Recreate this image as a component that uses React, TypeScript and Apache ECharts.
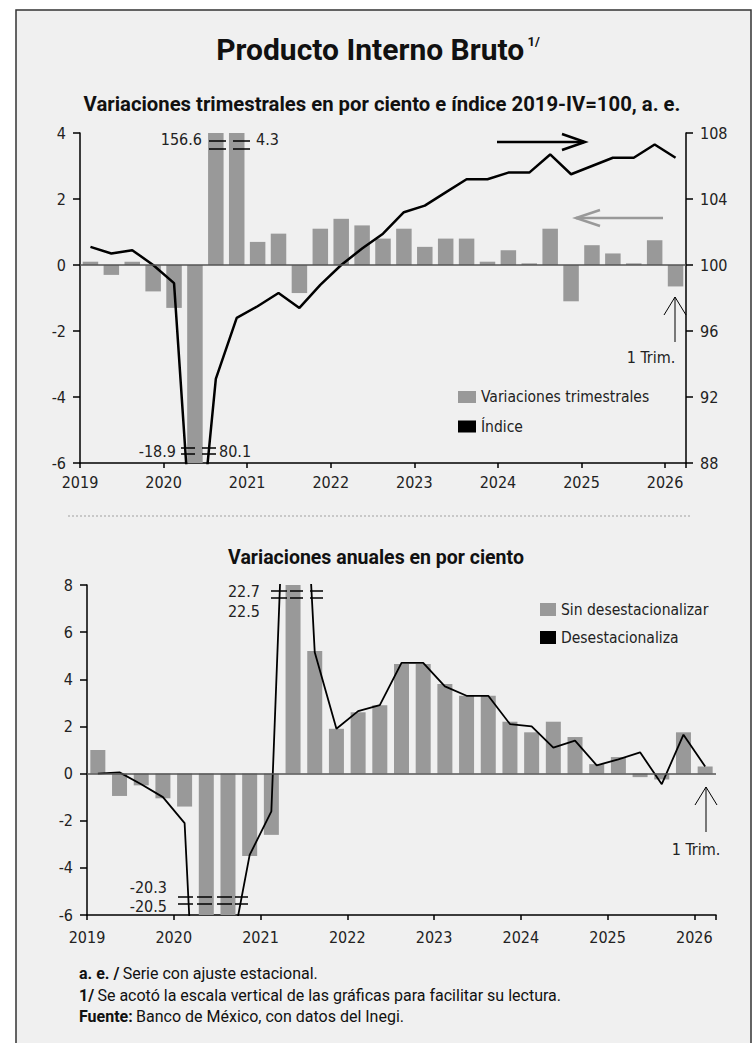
import React, { useEffect, useRef } from 'react';
import * as echarts from 'echarts';

const quarters = [
  '2019-I', '2019-II', '2019-III', '2019-IV',
  '2020-I', '2020-II', '2020-III', '2020-IV',
  '2021-I', '2021-II', '2021-III', '2021-IV',
  '2022-I', '2022-II', '2022-III', '2022-IV',
  '2023-I', '2023-II', '2023-III', '2023-IV',
  '2024-I', '2024-II', '2024-III', '2024-IV',
  '2025-I', '2025-II', '2025-III', '2025-IV',
  '2026-I',
];

// Variaciones trimestrales (%), a. e.
const quarterlyChange = [
  0.1, -0.3, 0.1, -0.8,
  -1.3, -18.9, 156.6, 4.3,
  0.7, 0.95, -0.85, 1.1,
  1.4, 1.2, 0.8, 1.1,
  0.55, 0.8, 0.8, 0.1,
  0.45, 0.05, 1.1, -1.1,
  0.6, 0.35, 0.05, 0.75,
  -0.65,
];

// Índice 2019-IV = 100, a. e.
const indexSA = [
  101.1, 100.7, 100.9, 100.0,
  98.9, 80.1, 93.1, 96.8,
  97.5, 98.3, 97.4, 98.8,
  100.0, 101.0, 101.9, 103.2,
  103.6, 104.4, 105.2, 105.2,
  105.6, 105.6, 106.7, 105.5,
  106.0, 106.5, 106.5, 107.3,
  106.5,
];

// Variaciones anuales (%), sin desestacionalizar
const annualNSA = [
  1.0, -0.95, -0.5, -1.05,
  -1.4, -20.3, -8.5, -3.5,
  -2.6, 22.7, 5.2, 1.9,
  2.6, 2.9, 4.65, 4.65,
  3.8, 3.3, 3.3, 2.2,
  1.75, 2.2, 1.55, 0.4,
  0.7, -0.15, -0.25, 1.75,
  0.3,
];

// Variaciones anuales (%), desestacionalizadas
const annualSA = [
  0.0, 0.05, -0.45, -1.0,
  -2.1, -20.5, -8.3, -3.45,
  -1.6, 22.5, 5.15, 1.9,
  2.65, 2.9, 4.7, 4.7,
  3.7, 3.3, 3.3, 2.1,
  2.0, 1.1, 1.4, 0.35,
  0.6, 0.9, -0.45, 1.65,
  0.3,
];

const NARROW = '"DejaVu Sans Condensed", "Roboto", sans-serif';
const SANS = 'Roboto, "Noto Sans", "Liberation Sans", sans-serif';
const TXT = '#222';
const BAR = '#999999';
const TICK_FS = 16;

const TOP = { left: 80, top: 133, width: 606, height: 330 };
const BOT = { left: 87, top: 585, width: 629, height: 330 };

function xAxisFor(gridIndex: number, width: number, margin: number) {
  const band = width / quarters.length;
  return {
    gridIndex,
    type: 'category',
    data: quarters,
    boundaryGap: true,
    axisLine: { show: true, onZero: false, lineStyle: { color: '#000', width: 1.5 } },
    axisTick: {
      show: true,
      interval: (i: number) => i % 4 === 0,
      length: 5,
      lineStyle: { color: '#000', width: 1.5 },
    },
    axisLabel: {
      interval: (i: number) => i % 4 === 0,
      formatter: (v: string) => v.slice(0, 4),
      padding: [0, band, 0, 0],
      margin,
      fontFamily: NARROW,
      fontSize: TICK_FS,
      color: TXT,
    },
    splitLine: { show: false },
  };
}

function yAxisFor(gridIndex: number, min: number, max: number, interval: number, position: string) {
  return {
    gridIndex,
    type: 'value',
    min,
    max,
    interval,
    position,
    axisLine: { show: true, onZero: false, lineStyle: { color: '#000', width: 1.5 } },
    axisTick: { show: true, length: 7, lineStyle: { color: '#000', width: 1.5 } },
    axisLabel: { margin: 14, fontFamily: NARROW, fontSize: TICK_FS, color: TXT },
    splitLine: { show: false },
  };
}

const zeroLine = {
  silent: true,
  symbol: 'none',
  label: { show: false },
  lineStyle: { color: '#555', width: 1.5, type: 'solid' },
  data: [{ yAxis: 0 }],
};

function cut(x1: number, x2: number, y: number, gap: number) {
  return [
    { type: 'line', z: 60, shape: { x1, y1: y, x2, y2: y }, style: { stroke: '#000', lineWidth: 1.5 } },
    { type: 'line', z: 60, shape: { x1, y1: y + gap, x2, y2: y + gap }, style: { stroke: '#000', lineWidth: 1.5 } },
  ];
}

function label(text: string, x: number, y: number, align: string) {
  return {
    type: 'text', z: 60, x, y,
    style: { text, fontFamily: NARROW, fontSize: TICK_FS, fill: TXT, textAlign: align, textVerticalAlign: 'middle' },
  };
}

function upArrow(x: number, y1: number, y2: number) {
  return [
    { type: 'line', z: 60, shape: { x1: x, y1, x2: x, y2 }, style: { stroke: '#000', lineWidth: 1 } },
    { type: 'polyline', z: 60, shape: { points: [[x - 11, y2 + 18], [x, y2], [x + 11, y2 + 18]] }, style: { stroke: '#000', lineWidth: 1, fill: null } },
  ];
}

function footer(bold: string, rest: string, y: number) {
  return {
    type: 'text', z: 60, x: 79, y,
    style: {
      text: `{b|${bold}} {r|${rest}}`, textVerticalAlign: 'middle',
      rich: {
        b: { fontFamily: SANS, fontSize: 16, fontWeight: 'bold', fill: '#111' },
        r: { fontFamily: SANS, fontSize: 16, fill: '#111' },
      },
    },
  };
}

export default function App() {
  const ref = useRef<HTMLDivElement>(null);

  useEffect(() => {
    if (!ref.current) return;
    const chart = echarts.init(ref.current, undefined, { renderer: 'svg' });

    const graphics: any[] = [
      { type: 'rect', z: -10, shape: { x: 16, y: 10, width: 735, height: 1060 }, style: { fill: '#f0f0f0', stroke: '#333', lineWidth: 1.5 } },
      {
        type: 'text', z: 60, x: 378, y: 49,
        style: {
          text: '{t|Producto Interno Bruto} {s|1/}',
          textAlign: 'center', textVerticalAlign: 'middle',
          rich: {
            t: { fontFamily: SANS, fontSize: 30, fontWeight: 'bold', fill: '#111' },
            s: { fontFamily: SANS, fontSize: 13, fontWeight: 'bold', fill: '#111', padding: [0, 0, 16, 0] },
          },
        },
      },
      {
        type: 'text', z: 60, x: 382, y: 104,
        style: { text: 'Variaciones trimestrales en por ciento e índice 2019-IV=100, a. e.', fontFamily: SANS, fontSize: 20.3, fontWeight: 'bold', fill: '#111', textAlign: 'center', textVerticalAlign: 'middle' },
      },
      {
        type: 'text', z: 60, x: 376, y: 557,
        style: { text: 'Variaciones anuales en por ciento', fontFamily: SANS, fontSize: 19.5, fontWeight: 'bold', fill: '#111', textAlign: 'center', textVerticalAlign: 'middle' },
      },
      { type: 'line', z: 60, shape: { x1: 68, y1: 516, x2: 690, y2: 516 }, style: { stroke: '#bbb', lineWidth: 1.5, lineDash: [2, 2] } },
      // black arrow (right axis)
      { type: 'line', z: 60, shape: { x1: 497, y1: 142, x2: 584, y2: 142 }, style: { stroke: '#000', lineWidth: 2.5 } },
      { type: 'polyline', z: 60, shape: { points: [[562, 134], [585, 142], [562, 150]] }, style: { stroke: '#000', lineWidth: 2.5, fill: null } },
      // gray arrow (left axis)
      { type: 'line', z: 60, shape: { x1: 663, y1: 218, x2: 576, y2: 218 }, style: { stroke: '#999', lineWidth: 2.5 } },
      { type: 'polyline', z: 60, shape: { points: [[600, 210], [576, 218], [600, 226]] }, style: { stroke: '#999', lineWidth: 2.5, fill: null } },
      // top chart cut marks
      ...cut(209, 226, 141, 8),
      ...cut(233, 250, 141, 8),
      label(String(quarterlyChange[6]), 202, 139, 'right'),
      label(String(quarterlyChange[7]), 256, 139, 'left'),
      ...cut(181, 195, 448, 6),
      ...cut(202, 216, 448, 6),
      label(String(quarterlyChange[5]), 176, 451, 'right'),
      label(String(indexSA[5]), 219, 451, 'left'),
      ...upArrow(675, 342, 297),
      label('1 Trim.', 651, 357, 'center'),
      // bottom chart cut marks
      ...cut(271, 287, 591, 7),
      ...cut(290, 303, 591, 7),
      ...cut(310, 323, 591, 7),
      label(String(annualNSA[9]), 260, 591, 'right'),
      label(String(annualSA[9]), 260, 611, 'right'),
      ...cut(178, 193, 897, 7),
      ...cut(197, 212, 897, 7),
      ...cut(217, 232, 897, 7),
      ...cut(235, 248, 897, 7),
      label(String(annualNSA[5]), 167, 887, 'right'),
      label(String(annualSA[5]), 167, 906, 'right'),
      ...upArrow(706, 832, 787),
      label('1 Trim.', 696, 849, 'center'),
      // footer
      footer('a. e. /', 'Serie con ajuste estacional.', 973),
      footer('1/', 'Se acotó la escala vertical de las gráficas para facilitar su lectura.', 995),
      footer('Fuente:', 'Banco de México, con datos del Inegi.', 1016),
    ];

    const option: any = {
      animation: false,
      backgroundColor: '#ffffff',
      grid: [
        { ...TOP, containLabel: false },
        { ...BOT, containLabel: false },
      ],
      xAxis: [xAxisFor(0, TOP.width, 11), xAxisFor(1, BOT.width, 14)],
      yAxis: [
        yAxisFor(0, -6, 4, 2, 'left'),
        yAxisFor(0, 88, 108, 4, 'right'),
        yAxisFor(1, -6, 8, 2, 'left'),
      ],
      legend: [
        {
          left: 453, top: 384, orient: 'vertical', itemWidth: 18, itemHeight: 12, itemGap: 13.5,
          data: [{ name: 'Variaciones trimestrales', icon: 'rect' }, { name: 'Índice', icon: 'rect' }],
          textStyle: { fontFamily: NARROW, fontSize: 15.5, color: TXT },
          selectedMode: false,
        },
        {
          left: 535, top: 596.5, orient: 'vertical', itemWidth: 16, itemHeight: 13, itemGap: 12,
          data: [{ name: 'Sin desestacionalizar', icon: 'rect' }, { name: 'Desestacionaliza', icon: 'rect' }],
          textStyle: { fontFamily: NARROW, fontSize: 15.5, color: TXT },
          selectedMode: false,
        },
      ],
      series: [
        {
          name: 'Variaciones trimestrales', type: 'bar', xAxisIndex: 0, yAxisIndex: 0,
          data: quarterlyChange, barWidth: 15.5, itemStyle: { color: BAR }, clip: true,
          markLine: zeroLine, z: 2,
        },
        {
          name: 'Índice', type: 'line', xAxisIndex: 0, yAxisIndex: 1,
          data: indexSA, symbol: 'none', clip: true, z: 4,
          lineStyle: { color: '#000', width: 2.5 }, itemStyle: { color: '#000' },
        },
        {
          name: 'Sin desestacionalizar', type: 'bar', xAxisIndex: 1, yAxisIndex: 2,
          data: annualNSA, barWidth: 15, itemStyle: { color: BAR }, clip: true,
          markLine: zeroLine, z: 2,
        },
        {
          name: 'Desestacionaliza', type: 'line', xAxisIndex: 1, yAxisIndex: 2,
          data: annualSA, symbol: 'none', clip: true, z: 4,
          lineStyle: { color: '#000', width: 1.8 }, itemStyle: { color: '#000' },
        },
      ],
      graphic: { elements: graphics },
    };

    chart.setOption(option);
    return () => chart.dispose();
  }, []);

  return (
    <div
      ref={ref}
      style={{ position: 'absolute', left: 0, top: 0, width: 753, height: 1043, background: '#fff' }}
    />
  );
}
